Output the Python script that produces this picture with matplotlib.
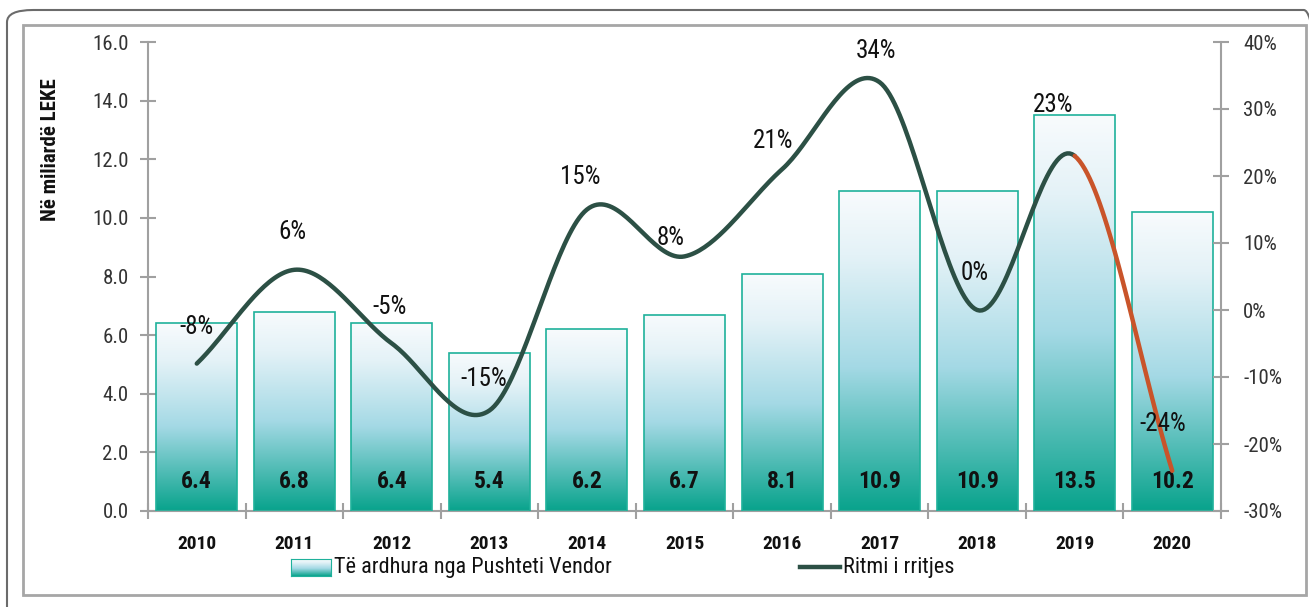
import numpy as np
import matplotlib
matplotlib.use("Agg")
import matplotlib.pyplot as plt
from matplotlib.colors import LinearSegmentedColormap
from matplotlib.patches import Rectangle, FancyBboxPatch
from matplotlib.lines import Line2D
from matplotlib import font_manager

# ---------------- data ----------------
years = ["2010", "2011", "2012", "2013", "2014", "2015", "2016", "2017", "2018", "2019", "2020"]
revenue = [6.4, 6.8, 6.4, 5.4, 6.2, 6.7, 8.1, 10.9, 10.9, 13.5, 10.2]
growth = [-8, 6, -5, -15, 15, 8, 21, 34, 0, 23, -24]
left_ticks = [0, 2, 4, 6, 8, 10, 12, 14, 16]
right_ticks = [-30, -20, -10, 0, 10, 20, 30, 40]
bar_legend = "Të ardhura nga Pushteti Vendor"
line_legend = "Ritmi i rritjes"
ylabel = "Në miliardë LEKE"

# ---------------- fonts ----------------
avail = {f.name for f in font_manager.fontManager.ttflist}
fam = [f for f in ["Liberation Sans Narrow", "Roboto Condensed", "Roboto", "DejaVu Sans"] if f in avail]
plt.rcParams["font.family"] = fam

W, H = 1309, 607
fig = plt.figure(figsize=(W / 100, H / 100), dpi=100)

def fx(px):
    return px / W

def fy(py):
    return 1 - py / H

# frames
outer = FancyBboxPatch((fx(7), fy(625)), fx(1330) - fx(7), fy(10) - fy(625),
                       boxstyle="round,pad=0,rounding_size=0.02", transform=fig.transFigure,
                       fill=False, edgecolor="#6b6b6b", linewidth=1.5, clip_on=False)
fig.patches.append(outer)
inner = Rectangle((fx(23), fy(595)), fx(1306) - fx(23), fy(25) - fy(595),
                  transform=fig.transFigure, fill=False, edgecolor="#a6a6a6", linewidth=2)
fig.patches.append(inner)

ax = fig.add_axes([fx(148), fy(511), fx(1221) - fx(148), fy(42) - fy(511)])
ax.set_facecolor("none")
n = len(years)
x = np.arange(n)
ax.set_xlim(-0.5, n - 0.5)
ax.set_ylim(0, 16)

cmap = LinearSegmentedColormap.from_list("g", [(0, "#08a38c"), (0.45, "#a4d9e5"), (0.8, "#e4f2f7"), (1.0, "#f8fbfd")])
grad = np.linspace(0, 1, 256).reshape(-1, 1)
bw = 0.83
bars = ax.bar(x, revenue, width=bw, facecolor="none", edgecolor="#1fb19b", linewidth=1.2, zorder=3)
for b in bars:
    x0, y0 = b.get_x(), b.get_y()
    w, h = b.get_width(), b.get_height()
    im = ax.imshow(grad, cmap=cmap, origin="lower", extent=[x0, x0 + w, y0, y0 + h],
                   aspect="auto", zorder=2, interpolation="bicubic")
    im.set_clip_path(b)

for xi, v in zip(x, revenue):
    ax.text(xi, 1.0, f"{v:.1f}", ha="center", va="center", fontsize=17, fontweight="bold",
            color="#111111", zorder=6)

ax.set_yticks(left_ticks)
ax.set_yticklabels([f"{t:.1f}" for t in left_ticks])
ax.set_xticks(np.arange(-0.5, n, 1.0))
ax.set_xticklabels([])
ax.set_xticks(x, minor=True)
ax.set_xticklabels(years, minor=True, fontsize=14, fontweight="bold", color="#111111")
ax.tick_params(axis="x", which="minor", length=0, pad=17)
ax.tick_params(axis="x", which="major", direction="inout", length=12, color="#a0a0a0", width=1.5)
ax.tick_params(axis="y", direction="inout", length=12, color="#a0a0a0", width=1.5,
               labelsize=15, labelcolor="#333333", pad=8)
for s in ["top", "right"]:
    ax.spines[s].set_visible(False)
for s in ["left", "bottom"]:
    ax.spines[s].set_color("#a0a0a0")
    ax.spines[s].set_linewidth(1.5)
ax.set_ylabel(ylabel, fontsize=15, fontweight="bold", color="#111111")
ax.yaxis.set_label_coords(-0.082, 0.77)

ax2 = ax.twinx()
ax2.set_ylim(-30, 40)
ax2.set_yticks(right_ticks)
ax2.set_yticklabels([f"{t}%" for t in right_ticks])
ax2.tick_params(axis="y", direction="inout", length=12, color="#a0a0a0", width=1.5,
                labelsize=15, labelcolor="#333333", pad=10)
for s in ["top", "left", "bottom"]:
    ax2.spines[s].set_visible(False)
ax2.spines["right"].set_color("#a0a0a0")
ax2.spines["right"].set_linewidth(1.5)

# smoothed line (Excel-style Bezier smoothing through the data points)
g = np.array(growth, dtype=float)
P = np.column_stack([x.astype(float), g])
Pe = np.vstack([2 * P[0] - P[1], P, 2 * P[-1] - P[-2]])
segs = []
t = np.linspace(0, 1, 40)
for i in range(1, len(Pe) - 2):
    p0, p1, p2, p3 = Pe[i - 1], Pe[i], Pe[i + 1], Pe[i + 2]
    c1 = p1 + (p2 - p0) / 6
    c2 = p2 - (p3 - p1) / 6
    pts = ((1 - t) ** 3)[:, None] * p1 + (3 * (1 - t) ** 2 * t)[:, None] * c1 \
        + (3 * (1 - t) * t ** 2)[:, None] * c2 + (t ** 3)[:, None] * p2
    segs.append(pts)
main = np.vstack(segs[:-1])
ax2.plot(main[:, 0], main[:, 1], color="#2c5045", lw=3.2, solid_capstyle="round", zorder=5)
last = segs[-1]
ax2.plot(last[:, 0], last[:, 1], color="#c9542a", lw=3.2, solid_capstyle="round", zorder=5)

offsets = [(0, 37), (-2, 38), (-2, 36), (-6, 31), (-7, 32), (-14, 18), (-9, 28), (-4, 31), (-2, 37), (-22, 51), (-9, 47)]
for xi, gv, (dx, dy) in zip(x, growth, offsets):
    ax2.annotate(f"{gv}%", (xi, gv), xytext=(dx * 0.72, dy * 0.72), textcoords="offset points",
                 ha="center", va="center", fontsize=18, color="#111111", zorder=7)

# legend
lax = fig.add_axes([fx(291), fy(576), fx(40), fy(559) - fy(576)])
lax.imshow(grad, cmap=cmap, origin="lower", aspect="auto", extent=[0, 1, 0, 1])
lax.set_xticks([]); lax.set_yticks([])
for s in lax.spines.values():
    s.set_color("#1fb19b")
fig.text(fx(334), fy(567), bar_legend, fontsize=16, va="center", ha="left", color="#111111")
fig.lines.append(Line2D([fx(800), fx(840)], [fy(567), fy(567)], transform=fig.transFigure,
                        color="#2c5045", lw=3.2))
fig.text(fx(843), fy(567), line_legend, fontsize=16, va="center", ha="left", color="#111111")

fig.savefig("out.png", dpi=100)
